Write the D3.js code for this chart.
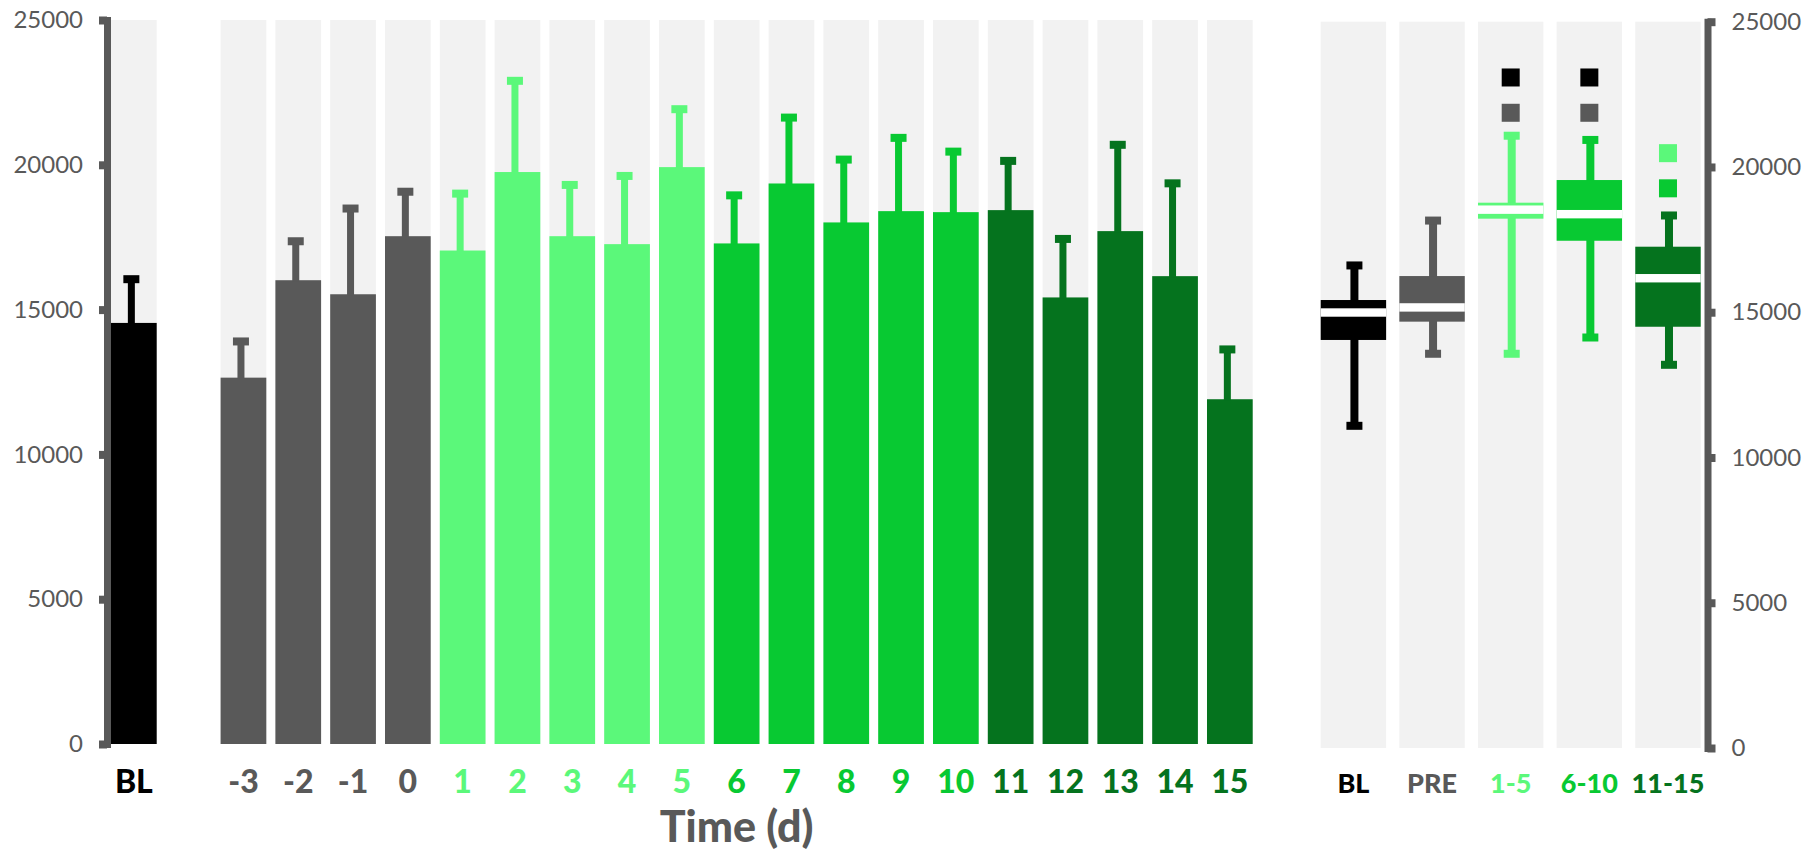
<!DOCTYPE html>
<html>
<head>
<meta charset="utf-8">
<script src="https://cdn.jsdelivr.net/npm/d3@7"></script>
<style>
  html, body { margin: 0; padding: 0; background: #fff; }
  svg { display: block; }
  text { font-family: Lato, "Open Sans", sans-serif; }
</style>
</head>
<body>
<svg id="chart" width="1808" height="851"></svg>
<script>
// ---------- data ----------
const barCats = ["BL","-3","-2","-1","0","1","2","3","4","5","6","7","8","9","10","11","12","13","14","15"];
const barGroups = ["BL","PRE","PRE","PRE","PRE","1-5","1-5","1-5","1-5","1-5","6-10","6-10","6-10","6-10","6-10","11-15","11-15","11-15","11-15","11-15"];
const barMeans = [14540, 12650, 16015, 15530, 17535, 17040, 19750, 17535, 17260, 19920, 17285, 19355, 18010, 18400, 18365, 18435, 15420, 17710, 16155, 11905];
const barUpper = [16050, 13900, 17360, 18490, 19070, 19005, 22900, 19305, 19615, 21920, 18945, 21630, 20180, 20930, 20455, 20135, 17440, 20690, 19360, 13625];

const boxCats   = ["BL","PRE","1-5","6-10","11-15"];
const boxMin    = [11090, 13570, 13570, 14130, 13190];
const boxQ1     = [14045, 14675, 18220, 17460, 14500];
const boxMedian = [14990, 15165, 18530, 18375, 16170];
const boxQ3     = [15420, 16245, 18770, 19550, 17255];
const boxMax    = [16610, 18155, 21075, 20930, 18330];

const outlierCats   = ["1-5","1-5","6-10","6-10","11-15","11-15"];
const outlierVals   = [23080, 21865, 23080, 21865, 20475, 19265];
const outlierGroups = ["BL","PRE","BL","PRE","1-5","6-10"];

const yTicks = [0, 5000, 10000, 15000, 20000, 25000];
const groupNames = ["BL","PRE","1-5","6-10","11-15"];
const groupColors = ["#000000","#595959","#5BF87A","#08C932","#05731E"];

// ---------- setup ----------
const svg = d3.select("#chart");
const color = d3.scaleOrdinal().domain(groupNames).range(groupColors);
const axisGray = "#595959";
const bandGray = "#F2F2F2";

// left panel
const leftSlots = ["BL", "__gap__"].concat(barCats.slice(1));
const xL = d3.scaleBand().domain(leftSlots).range([111, 1252.7]).paddingInner(0.166).paddingOuter(0);
const yL = d3.scaleLinear().domain([0, 25000]).range([744, 20]);

// right panel
const xR = d3.scaleBand().domain(boxCats).range([1320.7, 1700.7]).paddingInner(0.168).paddingOuter(0);
const yR = d3.scaleLinear().domain([0, 25000]).range([748, 21.7]);

// background bands
svg.append("g").selectAll("rect").data(barCats).join("rect")
  .attr("x", d => xL(d)).attr("width", xL.bandwidth())
  .attr("y", yL(25000)).attr("height", yL(0) - yL(25000))
  .attr("fill", bandGray);

svg.append("g").selectAll("rect").data(boxCats).join("rect")
  .attr("x", d => xR(d)).attr("width", xR.bandwidth())
  .attr("y", yR(25000)).attr("height", yR(0) - yR(25000))
  .attr("fill", bandGray);

// bars
const barData = barCats.map((c, i) => ({c, g: barGroups[i], m: barMeans[i], u: barUpper[i]}));
const gBars = svg.append("g");
gBars.selectAll("rect.bar").data(barData).join("rect").attr("class","bar")
  .attr("x", d => xL(d.c)).attr("width", xL.bandwidth())
  .attr("y", d => yL(d.m)).attr("height", d => yL(0) - yL(d.m))
  .attr("fill", d => color(d.g));
// error bars
const errOff = -2.5;
gBars.selectAll("rect.err").data(barData).join("rect").attr("class","err")
  .attr("x", d => xL(d.c) + xL.bandwidth()/2 + errOff - 3.5).attr("width", 7)
  .attr("y", d => yL(d.u)).attr("height", d => yL(d.m) - yL(d.u) + 1)
  .attr("fill", d => color(d.g));
gBars.selectAll("rect.cap").data(barData).join("rect").attr("class","cap")
  .attr("x", d => xL(d.c) + xL.bandwidth()/2 + errOff - 8).attr("width", 16)
  .attr("y", d => yL(d.u) - 4).attr("height", 8)
  .attr("fill", d => color(d.g));

// box plots
const boxData = boxCats.map((c, i) => ({c, min: boxMin[i], q1: boxQ1[i], med: boxMedian[i], q3: boxQ3[i], max: boxMax[i]}));
const gBox = svg.append("g");
const cx = d => xR(d.c) + xR.bandwidth()/2 + 1;
gBox.selectAll("rect.whisk").data(boxData).join("rect").attr("class","whisk")
  .attr("x", d => cx(d) - 4).attr("width", 8)
  .attr("y", d => yR(d.max)).attr("height", d => yR(d.min) - yR(d.max))
  .attr("fill", d => color(d.c));
gBox.selectAll("rect.capTop").data(boxData).join("rect").attr("class","capTop")
  .attr("x", d => cx(d) - 8).attr("width", 16)
  .attr("y", d => yR(d.max) - 4).attr("height", 8)
  .attr("fill", d => color(d.c));
gBox.selectAll("rect.capBot").data(boxData).join("rect").attr("class","capBot")
  .attr("x", d => cx(d) - 8).attr("width", 16)
  .attr("y", d => yR(d.min) - 4).attr("height", 8)
  .attr("fill", d => color(d.c));
gBox.selectAll("rect.box").data(boxData).join("rect").attr("class","box")
  .attr("x", d => xR(d.c)).attr("width", xR.bandwidth())
  .attr("y", d => yR(d.q3)).attr("height", d => yR(d.q1) - yR(d.q3))
  .attr("fill", d => color(d.c));
gBox.selectAll("rect.med").data(boxData).join("rect").attr("class","med")
  .attr("x", d => xR(d.c)).attr("width", xR.bandwidth())
  .attr("y", d => yR(d.med) - 4.2).attr("height", 8.4)
  .attr("fill", "#ffffff");

// outliers
const outData = outlierCats.map((c, i) => ({c, v: outlierVals[i], g: outlierGroups[i]}));
gBox.selectAll("rect.out").data(outData).join("rect").attr("class","out")
  .attr("x", d => xR(d.c) + xR.bandwidth()/2 - 9).attr("width", 18)
  .attr("y", d => yR(d.v) - 9).attr("height", 18)
  .attr("fill", d => color(d.g));

// axes
function styleAxis(g) {
  g.select(".domain").attr("stroke", axisGray).attr("stroke-width", 7).attr("stroke-linecap", "square");
  g.selectAll(".tick line").attr("stroke", axisGray).attr("stroke-width", 8);
  g.selectAll(".tick text").attr("fill", axisGray).attr("font-size", 24).attr("font-family", "Lato, sans-serif");
}
const axL = svg.append("g").attr("transform", "translate(107,0)")
  .call(d3.axisLeft(yL).tickValues(yTicks).tickSize(8).tickSizeOuter(0).tickPadding(16).tickFormat(d3.format("d")));
styleAxis(axL);
const axR = svg.append("g").attr("transform", "translate(1707.5,0)")
  .call(d3.axisRight(yR).tickValues(yTicks).tickSize(8).tickSizeOuter(0).tickPadding(16).tickFormat(d3.format("d")));
styleAxis(axR);

// x labels
svg.append("g").selectAll("text").data(barData).join("text")
  .attr("x", d => xL(d.c) + xL.bandwidth()/2)
  .attr("y", 793)
  .attr("text-anchor", "middle")
  .attr("font-size", 32).attr("font-weight", 900)
  .attr("fill", d => color(d.g))
  .text(d => d.c);

svg.append("g").selectAll("text").data(boxCats).join("text")
  .attr("x", d => xR(d) + xR.bandwidth()/2)
  .attr("y", 793)
  .attr("text-anchor", "middle")
  .attr("font-size", 27).attr("font-weight", 900)
  .attr("fill", d => color(d))
  .text(d => d);

// axis title
svg.append("text")
  .attr("x", (xL("-3") + xL("15") + xL.bandwidth()) / 2)
  .attr("y", 842)
  .attr("text-anchor", "middle")
  .attr("font-size", 43).attr("font-weight", 900)
  .attr("fill", axisGray)
  .text("Time (d)");
</script>
</body>
</html>
